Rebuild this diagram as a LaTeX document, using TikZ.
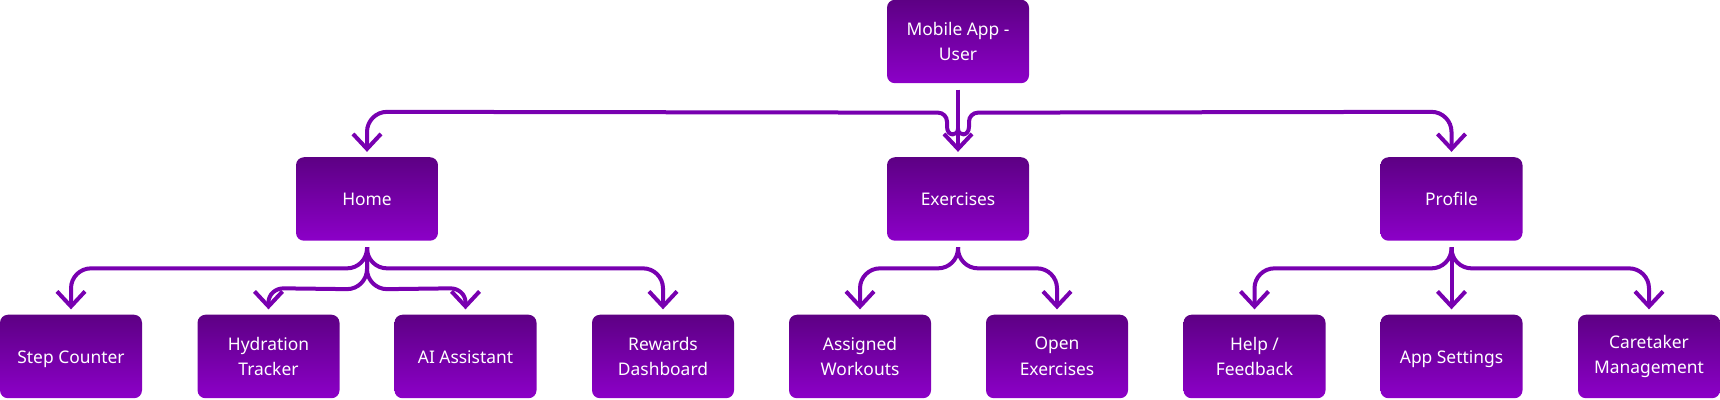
\documentclass[tikz,border=0pt]{standalone}
\usepackage{fontspec}
\setmainfont{Noto Sans}
\usetikzlibrary{arrows.meta,calc}
\definecolor{boxtop}{HTML}{5D0084}
\definecolor{boxbot}{HTML}{8C00C8}
\definecolor{linec}{HTML}{7800B0}
\tikzset{
  box/.style={rounded corners=4pt, top color=boxtop, bottom color=boxbot, draw=none,
    minimum width=71pt, minimum height=41.75pt, inner sep=0pt, align=center,
    text=white, font=\fontsize{8.7}{12.8}\selectfont},
  onel/.style={box, text height=7pt, text depth=0pt},
  conn/.style={draw=linec, line width=2pt, rounded corners=10pt,
    -{Straight Barb[length=7.5pt,width=14pt]}}
}
\newcommand{\twol}[2]{\raisebox{-1.6pt}{\parbox{70pt}{\centering #1\\#2}}}
\begin{document}
\begin{tikzpicture}[x=0.5pt,y=-0.5pt]
\useasboundingbox (0,0) rectangle (1720,400);
% nodes
\node[box] (app) at (958,41.5) {\twol{Mobile App -}{User}};
\node[onel] (home) at (367,199) {Home};
\node[onel] (ex) at (958,199) {Exercises};
\node[onel] (prof) at (1451.5,199) {Profile};
\node[onel] (step) at (71,356.5) {Step Counter};
\node[box] (hyd) at (268.5,356.5) {\twol{Hydration}{Tracker}};
\node[onel] (ai) at (465.5,356.5) {AI Assistant};
\node[box] (rew) at (663,356.5) {\twol{Rewards}{Dashboard}};
\node[box] (asg) at (860,356.5) {\twol{Assigned}{Workouts}};
\node[box] (open) at (1057,356.5) {\twol{Open}{Exercises}};
\node[box] (help) at (1254.5,356.5) {\twol{Help /}{Feedback}};
\node[onel] (set) at (1451.5,356.5) {App Settings};
\node[box] (care) at (1649,356.5) {\twol{Caretaker}{Management}};
% top fan
\coordinate (as) at ($(app.south)+(0,6)$);
\coordinate (jn) at ($(app.south)+(0,45)$);
\draw[conn] (as) -- ($(ex.north)+(0,-5)$);
\draw[conn, rounded corners=0pt] (jn) .. controls ($(jn)+(0,8)$) and ($(jn)+(-11,8)$) .. ($(jn)+(-11,-2)$)
  -- ($(jn)+(-11,-7)$) .. controls ($(jn)+(-11,-12)$) and ($(jn)+(-15,-16)$) .. ($(jn)+(-20,-16)$)
  -- ($(home.north)+(20,-45)$) .. controls ($(home.north)+(9,-45)$) and ($(home.north)+(0,-36)$) .. ($(home.north)+(0,-25)$)
  -- ($(home.north)+(0,-5)$);
\draw[conn, rounded corners=0pt] (jn) .. controls ($(jn)+(0,8)$) and ($(jn)+(11,8)$) .. ($(jn)+(11,-2)$)
  -- ($(jn)+(11,-7)$) .. controls ($(jn)+(11,-12)$) and ($(jn)+(15,-16)$) .. ($(jn)+(20,-16)$)
  -- ($(prof.north)+(-20,-45)$) .. controls ($(prof.north)+(-9,-45)$) and ($(prof.north)+(0,-36)$) .. ($(prof.north)+(0,-25)$)
  -- ($(prof.north)+(0,-5)$);
% home fan
\coordinate (hs) at ($(home.south)+(0,6)$);
\draw[conn] (hs) |- ($(step.north)+(0,-46)$) -- ($(step.north)+(0,-5)$);
\draw[conn, rounded corners=0pt] (hs) -- ($(hs)+(0,22)$) .. controls ($(hs)+(0,33)$) and ($(hs)+(-9,42)$) .. ($(hs)+(-20,42)$)
  -- ($(hyd.north)+(15,-26)$) .. controls ($(hyd.north)+(7,-26)$) and ($(hyd.north)+(0,-20)$) .. ($(hyd.north)+(0,-12)$)
  -- ($(hyd.north)+(0,-5)$);
\draw[conn, rounded corners=0pt] (hs) -- ($(hs)+(0,22)$) .. controls ($(hs)+(0,33)$) and ($(hs)+(9,42)$) .. ($(hs)+(20,42)$)
  -- ($(ai.north)+(-15,-26)$) .. controls ($(ai.north)+(-7,-26)$) and ($(ai.north)+(0,-20)$) .. ($(ai.north)+(0,-12)$)
  -- ($(ai.north)+(0,-5)$);
\draw[conn] (hs) |- ($(rew.north)+(0,-46)$) -- ($(rew.north)+(0,-5)$);
% exercises fan
\coordinate (es) at ($(ex.south)+(0,6)$);
\draw[conn] (es) |- ($(asg.north)+(0,-46)$) -- ($(asg.north)+(0,-5)$);
\draw[conn] (es) |- ($(open.north)+(0,-46)$) -- ($(open.north)+(0,-5)$);
% profile fan
\coordinate (ps) at ($(prof.south)+(0,6)$);
\draw[conn] (ps) |- ($(help.north)+(0,-46)$) -- ($(help.north)+(0,-5)$);
\draw[conn] (ps) -- ($(set.north)+(0,-5)$);
\draw[conn] (ps) |- ($(care.north)+(0,-46)$) -- ($(care.north)+(0,-5)$);
\end{tikzpicture}
\end{document}
